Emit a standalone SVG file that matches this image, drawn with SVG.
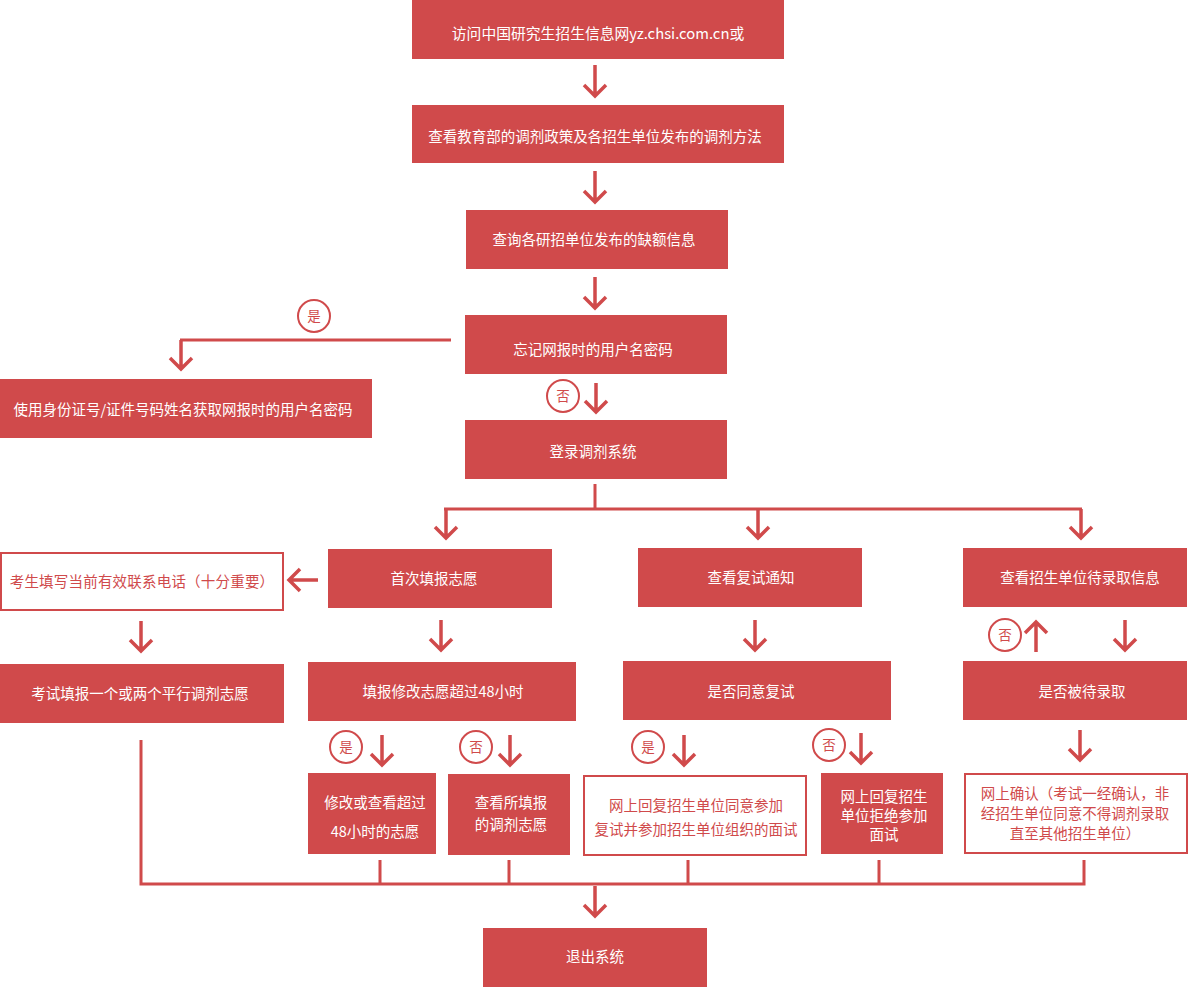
<svg xmlns="http://www.w3.org/2000/svg" width="1188" height="987" viewBox="0 0 1188 987">
<style>
.b{fill:#d04a4b}
.o{fill:#fff;stroke:#d04a4b;stroke-width:2}
text{font-family:"Noto Sans CJK SC","Noto Sans",sans-serif;font-size:14.5px;text-anchor:middle}
.w{fill:#fff}
.r{fill:#d04a4b}
.c{fill:#fff;stroke:#d04a4b;stroke-width:2}
.ct{fill:#d04a4b;font-size:13.5px}
.ln{fill:none;stroke:#d04a4b;stroke-width:3}
.ar{fill:none;stroke:#d04a4b;stroke-width:3.5}
</style>
<rect width="1188" height="987" fill="#fff"/>
<g id="n1"><rect class="b" x="412" y="0" width="372" height="59"/><text class="w" x="598" y="39" style="font-size:14.8px">访问中国研究生招生信息网yz.chsi.com.cn或</text></g>
<g id="n2"><rect class="b" x="412" y="105" width="372" height="58"/><text class="w" x="595" y="142">查看教育部的调剂政策及各招生单位发布的调剂方法</text></g>
<g id="n3"><rect class="b" x="466" y="210" width="262" height="59"/><text class="w" x="594" y="245">查询各研招单位发布的缺额信息</text></g>
<g id="n4"><rect class="b" x="465" y="315" width="262" height="59"/><text class="w" x="593" y="355">忘记网报时的用户名密码</text></g>
<g id="n5"><rect class="b" x="0" y="379" width="372" height="59"/><text class="w" x="183" y="415">使用身份证号/证件号码姓名获取网报时的用户名密码</text></g>
<g id="n6"><rect class="b" x="465" y="420" width="262" height="59"/><text class="w" x="593" y="457">登录调剂系统</text></g>
<g id="n7"><rect class="b" x="328" y="549" width="224" height="59"/><text class="w" x="434" y="584">首次填报志愿</text></g>
<g id="n8"><rect class="b" x="638" y="548" width="224" height="59"/><text class="w" x="751" y="583">查看复试通知</text></g>
<g id="n9"><rect class="b" x="963" y="548" width="224" height="59"/><text class="w" x="1080" y="583">查看招生单位待录取信息</text></g>
<g id="n10"><rect class="o" x="1" y="553" width="282" height="57"/><text class="r" x="142" y="587" style="letter-spacing:0.2px">考生填写当前有效联系电话（十分重要）</text></g>
<g id="n11"><rect class="b" x="0" y="664" width="284" height="59"/><text class="w" x="140" y="699">考试填报一个或两个平行调剂志愿</text></g>
<g id="n12"><rect class="b" x="308" y="662" width="268" height="59"/><text class="w" x="443" y="697">填报修改志愿超过48小时</text></g>
<g id="n13"><rect class="b" x="623" y="661" width="268" height="59"/><text class="w" x="751" y="697">是否同意复试</text></g>
<g id="n14"><rect class="b" x="963" y="661" width="224" height="59"/><text class="w" x="1082" y="697">是否被待录取</text></g>
<g id="n15"><rect class="b" x="308" y="773" width="128" height="81"/><text class="w" x="375" y="808">修改或查看超过</text><text class="w" x="375" y="837">48小时的志愿</text></g>
<g id="n16"><rect class="b" x="448" y="774" width="122" height="81"/><text class="w" x="511" y="808">查看所填报</text><text class="w" x="511" y="830">的调剂志愿</text></g>
<g id="n17"><rect class="o" x="584" y="776" width="222" height="79"/><text class="r" x="696" y="811">网上回复招生单位同意参加</text><text class="r" x="696" y="835">复试并参加招生单位组织的面试</text></g>
<g id="n18"><rect class="b" x="821" y="773" width="122" height="81"/><text class="w" x="884" y="802">网上回复招生</text><text class="w" x="884" y="821">单位拒绝参加</text><text class="w" x="884" y="840">面试</text></g>
<g id="n19"><rect class="o" x="965" y="774" width="222" height="79"/><text class="r" x="1075" y="799">网上确认（考试一经确认，非</text><text class="r" x="1075" y="819">经招生单位同意不得调剂录取</text><text class="r" x="1075" y="839">直至其他招生单位）</text></g>
<g id="n20"><rect class="b" x="483" y="928" width="224" height="59"/><text class="w" x="595" y="962">退出系统</text></g>
<g id="labels">
<circle class="c" cx="314" cy="316" r="16"/><text class="ct" x="314" y="321">是</text>
<circle class="c" cx="563" cy="396" r="16"/><text class="ct" x="563" y="401">否</text>
<circle class="c" cx="1005" cy="635" r="16"/><text class="ct" x="1005" y="640">否</text>
<circle class="c" cx="346" cy="747" r="16"/><text class="ct" x="346" y="752">是</text>
<circle class="c" cx="476" cy="747" r="16"/><text class="ct" x="476" y="752">否</text>
<circle class="c" cx="648" cy="747" r="16"/><text class="ct" x="648" y="752">是</text>
<circle class="c" cx="829" cy="745" r="16"/><text class="ct" x="829" y="750">否</text>
</g>
<g id="connectors">
<path class="ar" d="M595 65V96M584 85L595 96L606 85"/>
<path class="ar" d="M595 171V202M584 191L595 202L606 191"/>
<path class="ar" d="M595 277V308M584 297L595 308L606 297"/>
<path class="ln" d="M451 340H180"/>
<path class="ar" d="M181 340V369M170 358L181 369L192 358"/>
<path class="ar" d="M596 383V412M585 401L596 412L607 401"/>
<path class="ln" d="M595 484V509M444 509H1082"/>
<path class="ar" d="M446 509V538M435 527L446 538L457 527"/>
<path class="ar" d="M758 509V538M747 527L758 538L769 527"/>
<path class="ar" d="M1081 509V538M1070 527L1081 538L1092 527"/>
<path class="ar" d="M318 580H289M300 569L289 580L300 591"/>
<path class="ar" d="M141 621V651M130 640L141 651L152 640"/>
<path class="ar" d="M441 620V650M430 639L441 650L452 639"/>
<path class="ar" d="M755 620V650M744 639L755 650L766 639"/>
<path class="ar" d="M1036 652V622M1025 633L1036 622L1047 633"/>
<path class="ar" d="M1125 620V650M1114 639L1125 650L1136 639"/>
<path class="ar" d="M382 735V765M371 754L382 765L393 754"/>
<path class="ar" d="M510 735V765M499 754L510 765L521 754"/>
<path class="ar" d="M684 735V765M673 754L684 765L695 754"/>
<path class="ar" d="M861 733V763M850 752L861 763L872 752"/>
<path class="ar" d="M1080 730V760M1069 749L1080 760L1091 749"/>
<path class="ln" d="M141 740V884H1084V860M380 860V884M509 860V884M688 860V884M879 860V884"/>
<path class="ar" d="M595 886V916M584 905L595 916L606 905"/>
</g>
</svg>
